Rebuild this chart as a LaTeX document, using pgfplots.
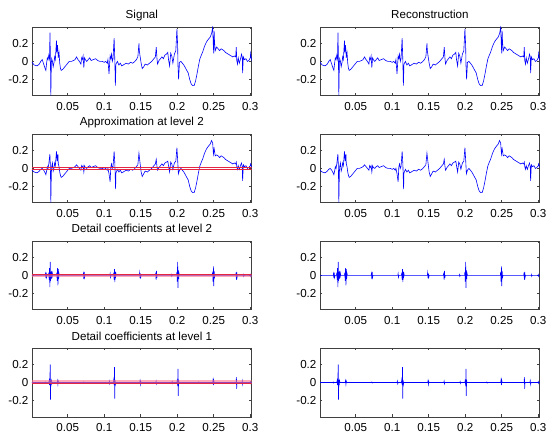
\documentclass[border=0pt]{standalone}
\usepackage{pgfplots}
\pgfplotsset{compat=1.18}
\usepackage{pgfplotstable}
\usepackage{fontspec}
\setmainfont{Liberation Sans}

\pgfplotstableread{
x y
0.001 -0.01
0.004 -0.04
0.008 -0.05
0.011 -0.03
0.013 0.0
0.015 0.02
0.017 -0.03
0.019 -0.08
0.020 -0.10
0.021 -0.02
0.022 0.04
0.023 0.02
0.024 0.07
0.025 0.03
0.0256 0.32
0.0262 0.05
0.0268 -0.38
0.0275 -0.02
0.028 0.03
0.029 0.0
0.030 -0.06
0.031 -0.02
0.032 0.05
0.033 0.02
0.0345 0.23
0.035 0.10
0.036 0.18
0.037 0.04
0.038 0.10
0.039 -0.02
0.040 -0.08
0.041 -0.10
0.043 -0.09
0.046 -0.06
0.049 -0.03
0.052 0.0
0.055 0.0
0.058 0.01
0.060 0.02
0.062 0.05
0.064 0.02
0.066 0.0
0.068 -0.03
0.069 0.04
0.070 0.02
0.071 0.06
0.072 -0.07
0.073 0.04
0.074 0.02
0.076 0.0
0.078 0.02
0.080 0.04
0.082 0.01
0.085 0.02
0.088 0.03
0.091 0.01
0.094 0.0
0.097 0.0
0.100 -0.01
0.102 0.0
0.104 -0.02
0.105 0.02
0.1065 -0.14
0.108 0.06
0.109 0.03
0.110 0.08
0.111 0.0
0.112 0.03
0.1135 0.26
0.1145 0.0
0.1152 -0.27
0.116 -0.03
0.118 0.0
0.120 -0.04
0.122 -0.02
0.124 -0.05
0.126 -0.04
0.128 -0.03
0.130 -0.02
0.133 -0.03
0.136 -0.01
0.139 -0.02
0.142 0.0
0.144 0.02
0.146 0.05
0.1475 0.20
0.148 0.12
0.149 0.06
0.1505 -0.02
0.152 -0.08
0.154 -0.06
0.156 -0.03
0.159 -0.04
0.162 -0.02
0.165 0.0
0.168 0.03
0.170 0.05
0.1712 0.16
0.1722 0.03
0.173 -0.03
0.175 0.01
0.177 0.03
0.179 0.05
0.181 0.03
0.183 0.07
0.185 0.08
0.187 0.10
0.188 0.02
0.1895 -0.05
0.191 0.09
0.1925 0.06
0.194 -0.02
0.196 0.08
0.198 0.12
0.1995 0.36
0.2005 0.18
0.201 -0.05
0.2018 -0.20
0.203 -0.01
0.205 0.0
0.207 -0.02
0.209 -0.04
0.211 -0.07
0.213 -0.10
0.215 -0.13
0.217 -0.20
0.219 -0.25
0.221 -0.27
0.223 -0.27
0.225 -0.22
0.227 -0.14
0.229 -0.05
0.231 0.03
0.233 0.07
0.235 0.11
0.237 0.16
0.239 0.20
0.241 0.23
0.243 0.25
0.245 0.27
0.247 0.31
0.2485 0.38
0.2495 0.15
0.250 0.09
0.2505 0.34
0.251 0.22
0.252 0.12
0.254 0.16
0.256 0.14
0.258 0.12
0.260 0.14
0.262 0.13
0.264 0.12
0.266 0.10
0.268 0.09
0.270 0.08
0.272 0.07
0.274 0.06
0.276 0.05
0.278 0.06
0.280 0.05
0.2808 0.16
0.2815 0.01
0.2825 -0.03
0.2835 0.04
0.285 -0.02
0.287 0.04
0.288 0.08
0.289 0.05
0.2895 -0.13
0.2905 0.05
0.292 0.02
0.294 0.03
0.296 0.0
0.298 0.01
0.300 0.04
0.3005 0.09
0.302 0.0
}\sig

\pgfplotstableread{
x y
0.001 -0.02
0.004 -0.04
0.008 -0.05
0.011 -0.03
0.013 -0.01
0.015 0.0
0.017 -0.02
0.019 -0.05
0.020 -0.07
0.021 -0.03
0.022 0.02
0.023 0.0
0.024 0.05
0.0255 0.16
0.0262 0.02
0.0268 -0.38
0.0275 -0.05
0.028 0.02
0.029 0.06
0.030 -0.03
0.031 0.0
0.032 0.06
0.033 0.03
0.0345 0.19
0.0355 0.08
0.0365 0.16
0.037 0.05
0.038 0.02
0.039 -0.04
0.040 -0.08
0.041 -0.10
0.043 -0.09
0.046 -0.06
0.049 -0.03
0.052 0.0
0.055 0.0
0.058 0.01
0.060 0.02
0.062 0.04
0.064 0.02
0.066 0.0
0.068 -0.02
0.069 0.03
0.070 0.01
0.071 0.03
0.072 -0.04
0.073 0.03
0.074 0.01
0.076 0.0
0.078 0.02
0.080 0.03
0.082 0.01
0.085 0.02
0.088 0.03
0.091 0.01
0.094 0.0
0.097 0.0
0.100 -0.01
0.102 0.0
0.104 -0.02
0.105 0.0
0.1065 -0.06
0.108 -0.15
0.109 0.02
0.110 0.05
0.111 0.0
0.112 0.02
0.1135 0.19
0.1145 0.05
0.1155 -0.23
0.116 -0.05
0.118 -0.01
0.120 -0.04
0.122 -0.02
0.124 -0.05
0.126 -0.04
0.128 -0.03
0.130 -0.02
0.133 -0.03
0.136 -0.01
0.139 -0.02
0.142 0.0
0.144 0.02
0.146 0.04
0.1475 0.17
0.149 0.06
0.1505 -0.04
0.152 -0.09
0.154 -0.06
0.156 -0.03
0.159 -0.04
0.162 -0.02
0.165 0.0
0.168 0.03
0.170 0.05
0.1712 0.10
0.1722 0.02
0.173 -0.02
0.175 0.01
0.177 0.03
0.179 0.05
0.181 0.03
0.183 0.06
0.185 0.07
0.187 0.08
0.188 0.03
0.1895 -0.04
0.191 0.07
0.1925 0.05
0.194 -0.01
0.196 0.06
0.198 0.08
0.1995 0.23
0.2005 0.10
0.2015 -0.06
0.203 -0.02
0.205 0.0
0.207 -0.02
0.209 -0.04
0.211 -0.07
0.213 -0.10
0.215 -0.13
0.217 -0.20
0.219 -0.25
0.221 -0.27
0.223 -0.27
0.225 -0.22
0.227 -0.14
0.229 -0.05
0.231 0.03
0.233 0.07
0.235 0.11
0.237 0.16
0.239 0.20
0.241 0.23
0.243 0.25
0.245 0.27
0.247 0.31
0.2485 0.28
0.2495 0.16
0.2505 0.22
0.252 0.14
0.254 0.15
0.256 0.14
0.258 0.12
0.260 0.14
0.262 0.13
0.264 0.12
0.266 0.10
0.268 0.09
0.270 0.08
0.272 0.07
0.274 0.06
0.276 0.05
0.278 0.06
0.280 0.05
0.2808 0.07
0.2815 0.02
0.2825 -0.01
0.2835 0.03
0.285 -0.01
0.287 0.04
0.288 0.06
0.289 0.02
0.2895 -0.14
0.2905 0.04
0.292 0.02
0.294 0.03
0.296 0.0
0.298 0.01
0.300 0.03
0.3005 0.05
0.302 0.01
}\appr

\pgfplotstableread{
x y
0.001 0
0.019 0
0.0195 0.02
0.0200 -0.03
0.0205 0.03
0.0210 -0.02
0.0215 0
0.0235 0
0.0240 0.03
0.0245 -0.05
0.0250 0.08
0.0255 -0.13
0.0260 0.15
0.0265 -0.06
0.0270 0.04
0.0275 -0.04
0.0280 0.05
0.0285 -0.03
0.0290 0.02
0.0295 0
0.0345 0
0.0350 0.03
0.0355 -0.06
0.0360 0.08
0.0365 -0.11
0.0370 0.07
0.0375 -0.04
0.0380 0.02
0.0385 0
0.0710 0
0.0715 0.02
0.0720 -0.04
0.0725 0.04
0.0730 -0.02
0.0735 0
0.1075 0
0.1080 0.02
0.1085 -0.02
0.1090 0
0.1125 0
0.1130 0.03
0.1135 -0.05
0.1140 0.07
0.1145 -0.075
0.1150 0.04
0.1155 -0.03
0.1160 0.02
0.1165 0
0.1480 0
0.1485 0.03
0.1490 -0.03
0.1495 0.02
0.1500 -0.02
0.1505 0
0.1700 0
0.1705 0.03
0.1710 -0.05
0.1715 0.05
0.1720 -0.03
0.1725 0
0.1915 0
0.1920 0.01
0.1925 -0.01
0.1930 0
0.1990 0
0.1995 0.04
0.2000 -0.07
0.2005 0.15
0.2010 -0.14
0.2015 0.06
0.2020 -0.04
0.2025 0.02
0.2030 0
0.2480 0
0.2485 0.04
0.2490 -0.07
0.2495 0.10
0.2500 -0.12
0.2505 0.05
0.2510 -0.03
0.2515 0
0.2800 0
0.2805 0.03
0.2810 -0.05
0.2815 0.04
0.2820 -0.02
0.2825 0
0.2900 0
0.2905 0.01
0.2910 -0.01
0.2915 0
0.2995 0
0.3000 0.01
0.3005 -0.01
0.3010 0
0.302 0
}\dettwo

\pgfplotstableread{
x y
0.001 0
0.0185 0
0.0190 0.005
0.0195 -0.005
0.0200 0
0.0240 0
0.0245 0.02
0.0250 -0.03
0.0255 0.04
0.0260 0.20
0.0263 -0.19
0.0268 0.03
0.0273 -0.03
0.0278 0.02
0.0283 0
0.0355 0
0.0360 0.02
0.0365 -0.02
0.0370 0.015
0.0375 0
0.0715 0
0.0720 0.005
0.0725 -0.005
0.0730 0
0.1065 0
0.1070 0.015
0.1075 -0.015
0.1080 0
0.1125 0
0.1130 0.03
0.1135 -0.03
0.1140 0.17
0.1143 -0.18
0.1148 0.03
0.1153 -0.02
0.1158 0
0.1485 0
0.1490 0.02
0.1495 -0.02
0.1500 0.01
0.1505 0
0.1705 0
0.1710 0.015
0.1715 -0.015
0.1720 0
0.1925 0
0.1930 0.01
0.1935 -0.01
0.1940 0
0.1995 0
0.2000 0.03
0.2005 -0.04
0.2010 0.15
0.2013 -0.15
0.2018 0.03
0.2023 0
0.2290 0
0.2295 0.005
0.2300 -0.005
0.2305 0
0.2485 0
0.2490 0.03
0.2495 -0.03
0.2500 0.02
0.2505 0
0.2805 0
0.2810 0.06
0.2813 -0.07
0.2818 0
0.2885 0
0.2890 0.02
0.2895 -0.02
0.2900 0
0.2995 0
0.3000 0.01
0.3005 -0.01
0.3010 0
0.302 0
}\detone

\definecolor{thr}{rgb}{0.9,0.15,0.25}
\definecolor{band}{rgb}{1,0.45,0.55}

\pgfplotsset{
  mstyle/.style={
    scale only axis, width=164.8pt, height=51.6pt,
    xmin=0.001, xmax=0.302, ymin=-0.383, ymax=0.383,
    xtick={0.05,0.1,0.15,0.2,0.25,0.3},
    xticklabels={0.05,0.1,0.15,0.2,0.25,0.3},
    ytick={-0.2,0,0.2}, yticklabels={-0.2,0,0.2},
    tick align=inside, major tick length=1.8pt,
    xtick pos=both, ytick pos=both,
    axis line style={black!75, line width=0.5pt},
    every tick/.style={black!75, line width=0.5pt},
    tick label style={font=\fontsize{8.7}{10}\selectfont},
    xticklabel style={inner sep=0pt, yshift=-4.5pt},
    yticklabel style={inner sep=0pt, xshift=-2.5pt},
    title style={font=\fontsize{8.7}{10}\selectfont, anchor=base, at={(0.5,1)}, yshift=0pt, inner sep=0pt},
  },
  sl/.style={blue, line width=0.45pt, no markers},
}

\begin{document}
\begin{tikzpicture}
\useasboundingbox (0,0) rectangle (411pt,324.75pt);
% Row 1
\begin{axis}[mstyle, at={(24pt,252.9pt)}, anchor=south west, title={Signal}]
\addplot[sl] table {\sig};
\end{axis}
\begin{axis}[mstyle, at={(240pt,252.9pt)}, anchor=south west, title={Reconstruction}]
\addplot[sl] table {\sig};
\end{axis}
% Row 2
\begin{axis}[mstyle, at={(24pt,172.65pt)}, anchor=south west, title={Approximation at level 2}]
\addplot[sl] table {\appr};
\addplot[thr, line width=0.5pt] coordinates {(0.001,0.011) (0.302,0.011)};
\addplot[thr, line width=0.5pt] coordinates {(0.001,-0.011) (0.302,-0.011)};
\end{axis}
\begin{axis}[mstyle, at={(240pt,172.65pt)}, anchor=south west]
\addplot[sl] table {\appr};
\end{axis}
% Row 3
\begin{axis}[mstyle, at={(24pt,92.4pt)}, anchor=south west, title={Detail coefficients at level 2}]
\addplot[sl] table {\dettwo};
\addplot[fill=band, fill opacity=0.6, draw=none] coordinates {(0.001,-0.014) (0.302,-0.014) (0.302,0.006) (0.001,0.006)} -- cycle;
\addplot[thr, line width=0.6pt] coordinates {(0.001,0.006) (0.302,0.006)};
\end{axis}
\begin{axis}[mstyle, at={(240pt,92.4pt)}, anchor=south west]
\addplot[sl] table {\dettwo};
\end{axis}
% Row 4
\begin{axis}[mstyle, at={(24pt,12.1pt)}, anchor=south west, title={Detail coefficients at level 1}]
\addplot[sl] table {\detone};
\addplot[fill=band, fill opacity=0.6, draw=none] coordinates {(0.001,-0.016) (0.302,-0.016) (0.302,0.022) (0.001,0.022)} -- cycle;
\addplot[thr, line width=0.6pt] coordinates {(0.001,-0.006) (0.302,-0.006)};
\end{axis}
\begin{axis}[mstyle, at={(240pt,12.1pt)}, anchor=south west]
\addplot[sl] table {\detone};
\end{axis}
\end{tikzpicture}
\end{document}
